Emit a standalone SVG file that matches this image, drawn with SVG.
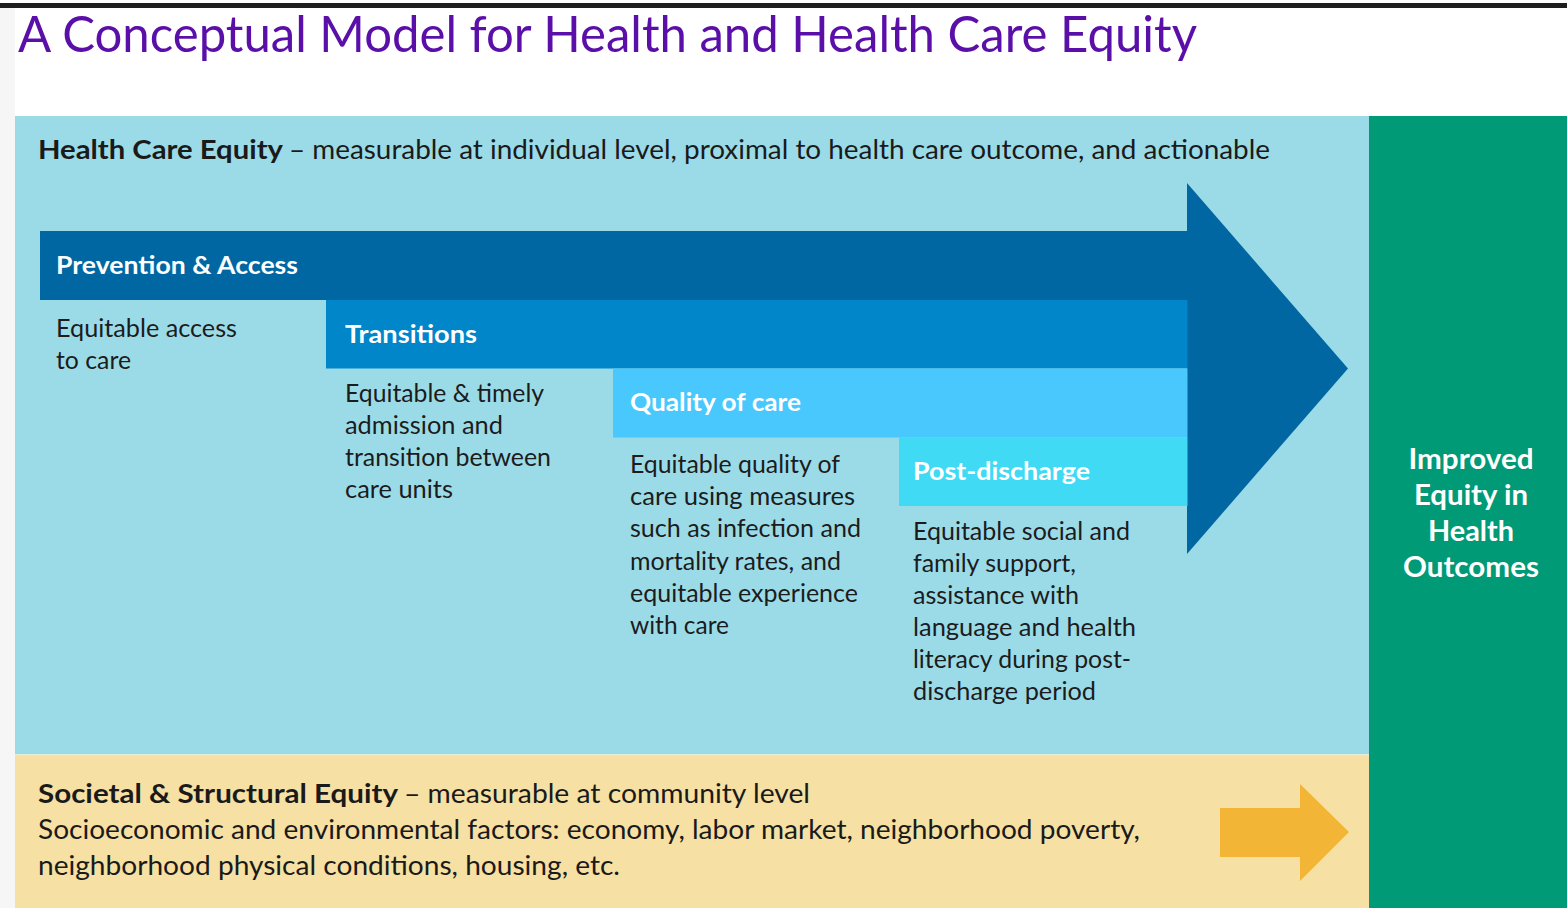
<svg xmlns="http://www.w3.org/2000/svg" width="1567" height="908" viewBox="0 0 1567 908">
<style>
  text { font-family: Lato, "Open Sans", "Liberation Sans", sans-serif; }
  .title { font-size: 50px; fill: #5b0fa9; }
  .hdr { font-size: 26px; fill: #1a1a1a; }
  .body { font-size: 25px; fill: #1c1c1c; }
  .band { font-size: 25px; fill: #ffffff; font-weight: bold; }
  .out { font-size: 28px; fill: #ffffff; font-weight: bold; text-anchor: middle; }
  .b { font-weight: bold; }
</style>
<rect x="0" y="0" width="1567" height="908" fill="#ffffff"/>
<rect x="0" y="3" width="1567" height="5" fill="#1e1e1e"/>
<rect x="0" y="8" width="15" height="900" fill="#f6f6f6"/>

<g id="title">
  <text class="title" x="18" y="52" textLength="1179" lengthAdjust="spacingAndGlyphs">A Conceptual Model for Health and Health Care Equity</text>
</g>

<g id="health-care-equity">
  <rect x="15" y="116" width="1354" height="639" fill="#9bdbe8"/>
  <text class="hdr b" x="38" y="159" textLength="245" lengthAdjust="spacingAndGlyphs">Health Care Equity</text>
  <text class="hdr" x="289" y="159" textLength="981" lengthAdjust="spacingAndGlyphs">– measurable at individual level, proximal to health care outcome, and actionable</text>
</g>

<g id="big-arrow">
  <polygon points="1187,183 1348,368.5 1187,554" fill="#0067a2"/>
</g>

<g id="prevention-access">
  <rect x="40" y="231" width="1147.5" height="69" fill="#0067a2"/>
  <text class="band" x="56" y="274" textLength="242" lengthAdjust="spacingAndGlyphs">Prevention &amp; Access</text>
  <text class="body" x="56" y="337" textLength="181" lengthAdjust="spacingAndGlyphs">Equitable access</text>
  <text class="body" x="56" y="369" textLength="75" lengthAdjust="spacingAndGlyphs">to care</text>
</g>

<g id="transitions">
  <rect x="326" y="300" width="861.5" height="68.5" fill="#0086c9"/>
  <text class="band" x="345" y="343" textLength="132" lengthAdjust="spacingAndGlyphs">Transitions</text>
  <text class="body" x="345" y="402" textLength="199" lengthAdjust="spacingAndGlyphs">Equitable &amp; timely</text>
  <text class="body" x="345" y="434" textLength="158" lengthAdjust="spacingAndGlyphs">admission and</text>
  <text class="body" x="345" y="466" textLength="206" lengthAdjust="spacingAndGlyphs">transition between</text>
  <text class="body" x="345" y="498" textLength="108" lengthAdjust="spacingAndGlyphs">care units</text>
</g>

<g id="quality-of-care">
  <rect x="613" y="368.5" width="574.5" height="69" fill="#48c8fc"/>
  <text class="band" x="630" y="411" textLength="171" lengthAdjust="spacingAndGlyphs">Quality of care</text>
  <text class="body" x="630" y="473" textLength="210" lengthAdjust="spacingAndGlyphs">Equitable quality of</text>
  <text class="body" x="630" y="505" textLength="225" lengthAdjust="spacingAndGlyphs">care using measures</text>
  <text class="body" x="630" y="537" textLength="231" lengthAdjust="spacingAndGlyphs">such as infection and</text>
  <text class="body" x="630" y="570" textLength="211" lengthAdjust="spacingAndGlyphs">mortality rates, and</text>
  <text class="body" x="630" y="602" textLength="228" lengthAdjust="spacingAndGlyphs">equitable experience</text>
  <text class="body" x="630" y="634" textLength="99" lengthAdjust="spacingAndGlyphs">with care</text>
</g>

<g id="post-discharge">
  <rect x="899" y="437.5" width="288.5" height="68.5" fill="#40daf5"/>
  <text class="band" x="913" y="480" textLength="177" lengthAdjust="spacingAndGlyphs">Post-discharge</text>
  <text class="body" x="913" y="540" textLength="217" lengthAdjust="spacingAndGlyphs">Equitable social and</text>
  <text class="body" x="913" y="572" textLength="163" lengthAdjust="spacingAndGlyphs">family support,</text>
  <text class="body" x="913" y="604" textLength="166" lengthAdjust="spacingAndGlyphs">assistance with</text>
  <text class="body" x="913" y="636" textLength="223" lengthAdjust="spacingAndGlyphs">language and health</text>
  <text class="body" x="913" y="668" textLength="218" lengthAdjust="spacingAndGlyphs">literacy during post-</text>
  <text class="body" x="913" y="700" textLength="183" lengthAdjust="spacingAndGlyphs">discharge period</text>
</g>

<g id="societal-structural-equity">
  <rect x="15" y="755" width="1354" height="153" fill="#f6e0a3"/>
  <rect x="15" y="754" width="1354" height="1.5" fill="#e4ecd8"/>
  <text class="hdr b" x="38" y="803" textLength="360" lengthAdjust="spacingAndGlyphs">Societal &amp; Structural Equity</text>
  <text class="hdr" x="404" y="803" textLength="406" lengthAdjust="spacingAndGlyphs">– measurable at community level</text>
  <text class="hdr" x="38" y="839" textLength="1102" lengthAdjust="spacingAndGlyphs">Socioeconomic and environmental factors: economy, labor market, neighborhood poverty,</text>
  <text class="hdr" x="38" y="875" textLength="582" lengthAdjust="spacingAndGlyphs">neighborhood physical conditions, housing, etc.</text>
</g>

<g id="connectors">
  <polygon points="1220,808 1300,808 1300,784 1349,832 1300,881 1300,857 1220,857" fill="#f2b536"/>
</g>

<g id="improved-equity">
  <rect x="1369" y="116" width="198" height="792" fill="#009a76"/>
  <text class="out" x="1471" y="469" textLength="125" lengthAdjust="spacingAndGlyphs">Improved</text>
  <text class="out" x="1471" y="505" textLength="114" lengthAdjust="spacingAndGlyphs">Equity in</text>
  <text class="out" x="1471" y="541" textLength="86" lengthAdjust="spacingAndGlyphs">Health</text>
  <text class="out" x="1471" y="577" textLength="136" lengthAdjust="spacingAndGlyphs">Outcomes</text>
</g>
</svg>
